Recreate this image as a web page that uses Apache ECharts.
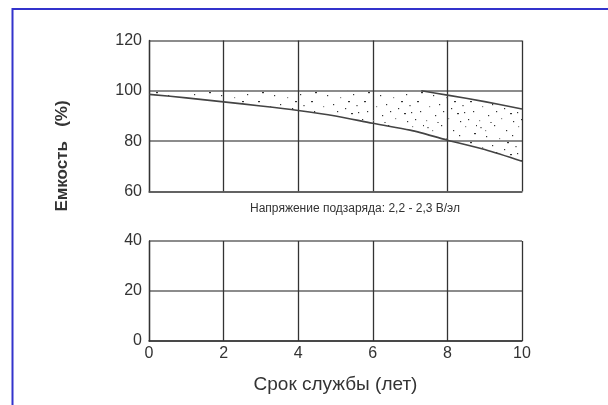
<!DOCTYPE html>
<html>
<head>
<meta charset="utf-8">
<script src="https://cdn.jsdelivr.net/npm/echarts@6/dist/echarts.min.js"></script>
<style>
html,body{margin:0;padding:0;background:#fff;}
#chart{width:608px;height:405px;}
</style>
</head>
<body>
<div id="chart"></div>
<script>
// ---- data ----
var years = [0, 1, 2, 3, 4, 5, 6, 7, 7.3, 8, 9, 10];
var lowerCapacity = [98.6, 97.2, 95.6, 94, 92.2, 90, 87.1, 84.4, 83.3, 80.4, 76.7, 72];
var upperCapacity = [100, 100, 100, 100, 100, 100, 100, 100, 100, 98.3, 95.7, 92.8];
var upperCurveStart = 8; // index where the upper curve leaves the 100% line
var xTitle = 'Срок службы (лет)';
var yTitle = 'Емкость   (%)';
var noteText = 'Напряжение подзаряда: 2,2 - 2,3 В/эл';

var lowerPts = years.map(function (x, i) { return [x, lowerCapacity[i]]; });
var upperAll = years.map(function (x, i) { return [x, upperCapacity[i]]; });
var upperPts = upperAll.slice(upperCurveStart);

// ---- stipple pattern (styling only, fixed hand-placed dots) ----
var tile = document.createElement('canvas');
tile.width = 53; tile.height = 41;
var tctx = tile.getContext('2d');
var dots = [
  [3,4],[17,2],[29,7],[41,3],[50,10],[9,13],[22,15],[35,12],[46,19],[5,24],
  [15,22],[27,26],[38,23],[49,29],[11,33],[24,36],[33,31],[44,37],[2,38],[19,29],
  [30,19],[8,7],[40,30],[52,2],[13,40],[36,39]
];
dots.forEach(function (d, i) {
  tctx.fillStyle = (i % 3 === 0) ? '#888888' : '#333333';
  tctx.fillRect(d[0], d[1], (i % 4 === 0) ? 2 : 1.2, 1.2);
});

var labelFont = {fontFamily: 'Liberation Sans', fontSize: 16, color: '#333'};
var hLine = {show: true, lineStyle: {color: '#666', width: 1.5}};
var vLine = {show: true, lineStyle: {color: '#333', width: 1.3}};

var chart = echarts.init(document.getElementById('chart'), null, {renderer: 'canvas'});
chart.setOption({
  animation: false,
  backgroundColor: '#fff',
  grid: [
    {left: 149, top: 40.5, width: 373, height: 151},
    {left: 149, top: 241, width: 373, height: 100}
  ],
  xAxis: [
    {type: 'value', gridIndex: 0, min: 0, max: 10, interval: 2,
     axisLine: {show: true, lineStyle: {color: '#555', width: 1.5}},
     axisTick: {show: false}, axisLabel: {show: false}, splitLine: vLine},
    {type: 'value', gridIndex: 1, min: 0, max: 10, interval: 2,
     axisLine: {show: true, lineStyle: {color: '#333', width: 1.5}},
     axisTick: {show: false},
     axisLabel: Object.assign({margin: 5}, labelFont),
     splitLine: vLine,
     name: xTitle, nameLocation: 'middle', nameGap: 34,
     nameTextStyle: {fontFamily: 'Liberation Sans', fontSize: 19, color: '#333'}}
  ],
  yAxis: [
    {type: 'value', gridIndex: 0, min: 60, max: 120, interval: 20,
     axisLine: {show: true, lineStyle: {color: '#333', width: 1.3}},
     axisTick: {show: false},
     axisLabel: Object.assign({margin: 7}, labelFont),
     splitLine: hLine},
    {type: 'value', gridIndex: 1, min: 0, max: 40, interval: 20,
     axisLine: {show: true, lineStyle: {color: '#333', width: 1.3}},
     axisTick: {show: false},
     axisLabel: Object.assign({margin: 7}, labelFont),
     splitLine: hLine}
  ],
  series: [
    {type: 'custom', xAxisIndex: 0, yAxisIndex: 0, data: [[0, 100]], z: 1, silent: true,
     renderItem: function (params, api) {
       var pts = [];
       upperAll.forEach(function (p) { pts.push(api.coord(p)); });
       for (var i = lowerPts.length - 1; i >= 0; i--) pts.push(api.coord(lowerPts[i]));
       return {type: 'polygon', shape: {points: pts},
               style: {fill: {image: tile, repeat: 'repeat'}, stroke: null}};
     }},
    {type: 'line', xAxisIndex: 0, yAxisIndex: 0, data: lowerPts,
     smooth: 0.3, symbol: 'none', lineStyle: {color: '#444', width: 1.6}, z: 3},
    {type: 'line', xAxisIndex: 0, yAxisIndex: 0, data: upperPts,
     smooth: 0.3, symbol: 'none', lineStyle: {color: '#444', width: 1.6}, z: 3}
  ],
  graphic: [
    {type: 'rect', shape: {x: 12.5, y: 9, width: 700, height: 500},
     style: {fill: 'none', stroke: '#3333cc', lineWidth: 2}, silent: true},
    {type: 'text', x: 62, y: 156, rotation: Math.PI / 2,
     style: {text: yTitle, fontFamily: 'Liberation Sans', fontWeight: 'bold', fontSize: 17,
             fill: '#333', align: 'center', verticalAlign: 'middle'}},
    {type: 'text', x: 355, y: 209,
     style: {text: noteText, fontFamily: 'Liberation Sans', fontSize: 12,
             fill: '#333', align: 'center', verticalAlign: 'middle'}}
  ]
});
</script>
</body>
</html>
